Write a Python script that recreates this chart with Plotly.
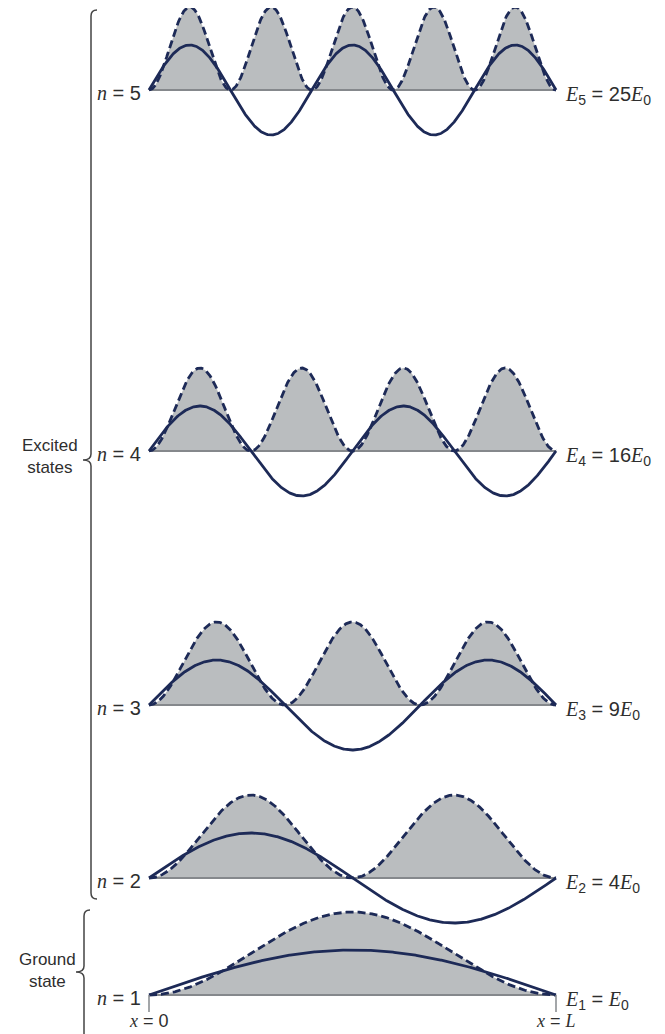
import numpy as np
import plotly.graph_objects as go

# ---------------- data ----------------
L = 1.0
levels = [1, 2, 3, 4, 5]                 # quantum number n
energy_multiple = [1, 4, 9, 16, 25]      # E_n / E_0
state_groups = ["Ground\nstate", "Excited\nstates"]
x_labels = ["0", "L"]

# ---------------- layout constants (pixels in the page) ----------------
W, H = 665, 1034
OFF = 8                      # default body margin of the page
X0_PX, XL_PX = 149, 556
BASE_PX = {1: 995, 2: 878, 3: 705, 4: 451, 5: 90}
AMP_PSI = 45
AMP_PSI2 = 83

NAVY = "#1d2a57"
FILL = "#babdbf"
BASE_COL = "#85888c"
TEXT = "#2e2e2e"

xs = np.linspace(0, L, 601)

fig = go.Figure()

for n in levels:
    psi = np.sin(n * np.pi * xs / L)
    psi2 = psi ** 2
    b = BASE_PX[n]
    fig.add_trace(go.Scatter(x=xs, y=b - AMP_PSI2 * psi2, mode="lines",
                             fill="toself", fillcolor=FILL,
                             line=dict(color="rgba(0,0,0,0)", width=0),
                             hoverinfo="skip", showlegend=False))
    fig.add_trace(go.Scatter(x=[0, L], y=[b, b], mode="lines",
                             line=dict(color=BASE_COL, width=2),
                             hoverinfo="skip", showlegend=False))
    fig.add_trace(go.Scatter(x=xs, y=b - AMP_PSI2 * psi2, mode="lines",
                             line=dict(color=NAVY, width=2.8, dash="8px,4px"),
                             hoverinfo="skip", showlegend=False))
    fig.add_trace(go.Scatter(x=xs, y=b - AMP_PSI * psi, mode="lines",
                             line=dict(color=NAVY, width=2.8),
                             hoverinfo="skip", showlegend=False))

SERIF = "Liberation Serif"
SANS = "Liberation Sans"


def it(s):
    return f'<span style="font-family:{SERIF}"><i>{s}</i></span>'


annotations = []
for n, em in zip(levels, energy_multiple):
    b = BASE_PX[n]
    annotations.append(dict(
        x=0, y=b + 3, xref="x", yref="y", xanchor="right", yanchor="middle",
        xshift=-6, showarrow=False,
        text=f'{it("n")} = {n}',
        font=dict(family=SANS, size=20, color=TEXT)))
    rhs = "" if em == 1 else str(em)
    annotations.append(dict(
        x=L, y=b + 5, xref="x", yref="y", xanchor="left", yanchor="middle",
        xshift=7, showarrow=False,
        text=f'{it("E")}<sub>{n}</sub> = {rhs}{it("E")}<sub>0</sub>',
        font=dict(family=SANS, size=20, color=TEXT)))

for xv, lab in zip([0, L], x_labels):
    annotations.append(dict(
        x=xv, y=1021, xref="x", yref="y", xanchor="center", yanchor="middle",
        showarrow=False,
        text=f'{it("x")} = ' + (it(lab) if lab == "L" else lab),
        font=dict(family=SANS, size=18, color=TEXT)))

annotations.append(dict(x=50, y=456, xref="x2", yref="y", showarrow=False,
                        xanchor="center", yanchor="middle",
                        text=state_groups[1].replace("\n", "<br>"),
                        font=dict(family=SANS, size=17, color=TEXT)))
annotations.append(dict(x=47, y=970, xref="x2", yref="y", showarrow=False,
                        xanchor="center", yanchor="middle",
                        text=state_groups[0].replace("\n", "<br>"),
                        font=dict(family=SANS, size=17, color=TEXT)))

shapes = []
for xv in [0, L]:
    shapes.append(dict(type="line", xref="x", yref="y", x0=xv, x1=xv,
                       y0=BASE_PX[1], y1=1012, line=dict(color=BASE_COL, width=1.5)))


def brace(xl, top, bot, tip_y, depth=8, r=6):
    return (f"M {xl + r},{top} Q {xl},{top} {xl},{top + r} "
            f"L {xl},{tip_y - r} Q {xl},{tip_y} {xl - depth},{tip_y} "
            f"Q {xl},{tip_y} {xl},{tip_y + r} "
            f"L {xl},{bot - r} Q {xl},{bot} {xl + r},{bot}")


shapes.append(dict(type="path", xref="x2", yref="y",
                   path=brace(91, 10, 899, 460),
                   line=dict(color="#444444", width=1.5)))
shapes.append(dict(type="path", xref="x2", yref="y",
                   path=brace(84, 910, 1045, 972),
                   line=dict(color="#444444", width=1.5)))

span = XL_PX - X0_PX
fig.update_layout(
    width=W - OFF, height=H - OFF,
    margin=dict(l=0, r=0, t=0, b=0, pad=0),
    paper_bgcolor="white", plot_bgcolor="white",
    xaxis=dict(range=[(OFF - X0_PX) / span * L, (W - X0_PX) / span * L],
               visible=False, fixedrange=True),
    xaxis2=dict(range=[OFF, W], visible=False, overlaying="x", fixedrange=True),
    yaxis=dict(range=[H, OFF], visible=False, fixedrange=True),
    annotations=annotations,
    shapes=shapes,
    showlegend=False,
)
fig.add_trace(go.Scatter(x=[OFF], y=[OFF], xaxis="x2", mode="markers",
                         marker=dict(opacity=0), hoverinfo="skip", showlegend=False))

fig.write_html("out.html")
